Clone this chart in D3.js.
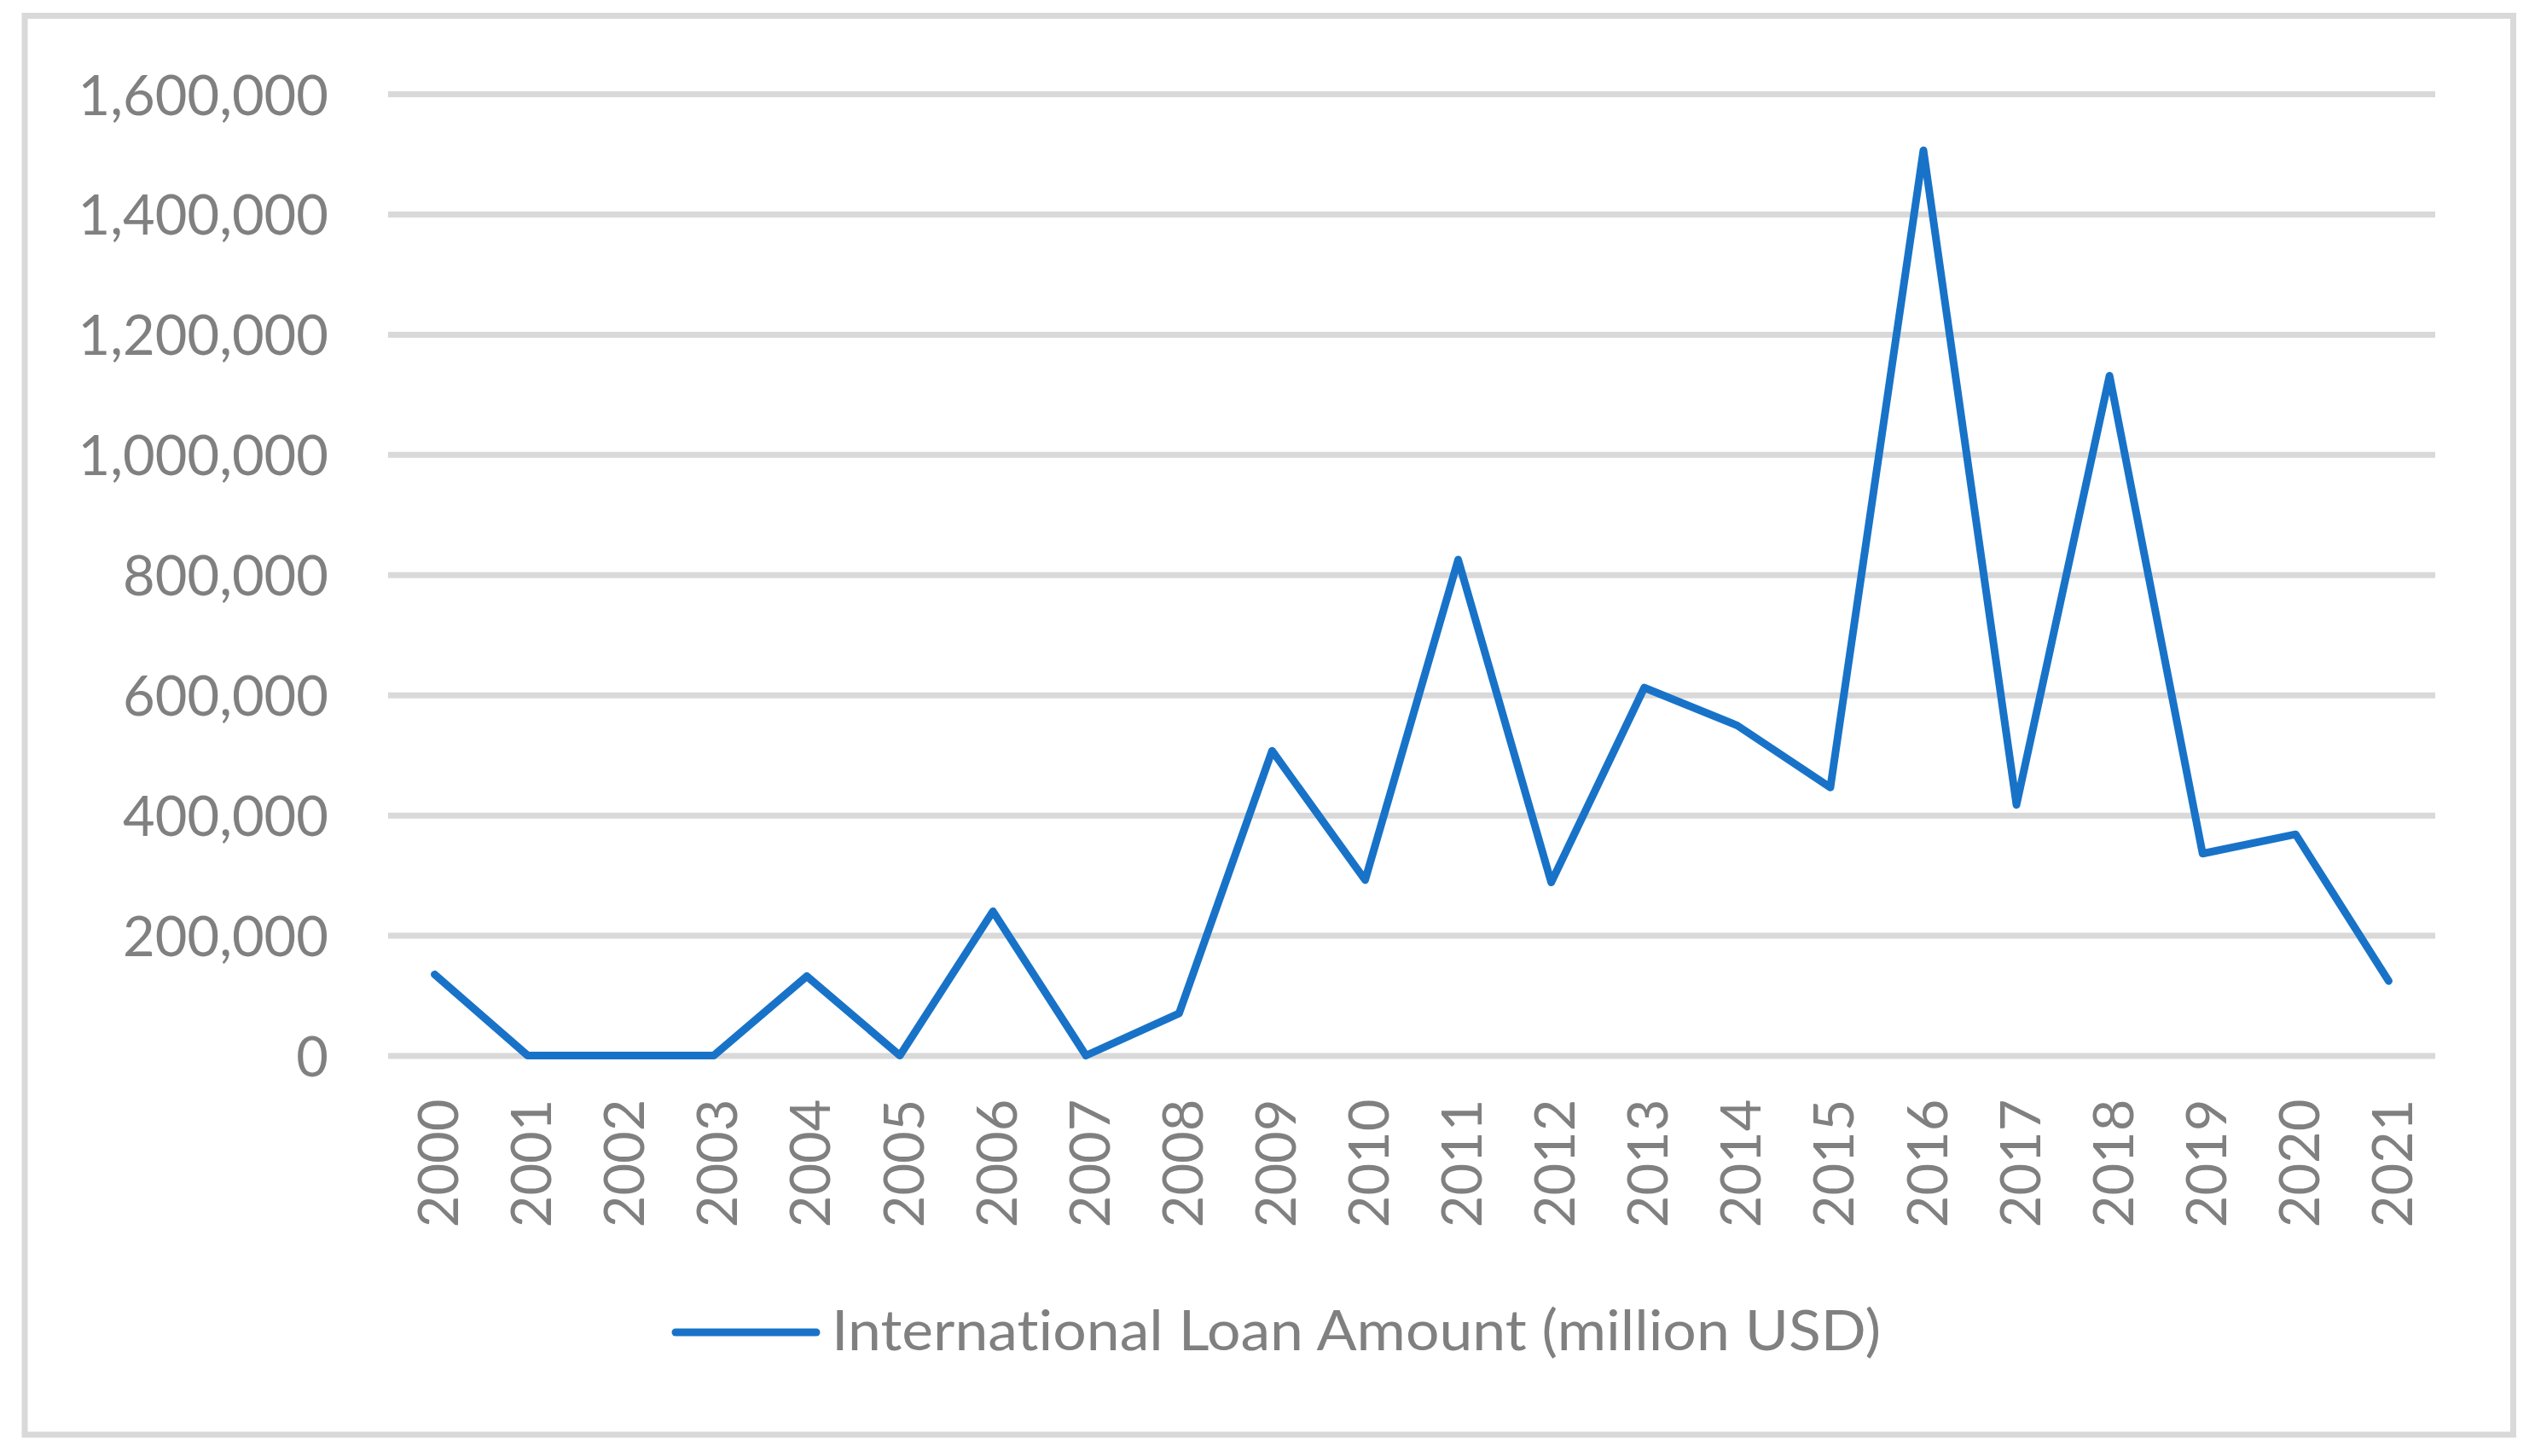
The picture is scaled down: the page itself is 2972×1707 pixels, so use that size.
<!DOCTYPE html>
<html>
<head>
<meta charset="utf-8">
<script src="https://cdn.jsdelivr.net/npm/d3@7"></script>
<style>
  html, body { margin: 0; padding: 0; background: #ffffff; }
  svg { display: block; }
  text { font-family: Lato, "Open Sans", sans-serif; fill: #808080; font-variant-ligatures: none; font-feature-settings: "liga" 0, "clig" 0, "dlig" 0; }
</style>
</head>
<body>
<svg id="chart" width="2972" height="1707"></svg>
<script>
// ---- data ----
const years = ["2000","2001","2002","2003","2004","2005","2006","2007","2008","2009","2010",
               "2011","2012","2013","2014","2015","2016","2017","2018","2019","2020","2021"];
const loanAmounts = [135000, 0, 0, 0, 132000, 0, 240000, 0, 70000, 507000, 292000,
                     825000, 288000, 612000, 549000, 446000, 1506000, 417000, 1131000, 336000, 368000, 124000];
const yTicks = [0, 200000, 400000, 600000, 800000, 1000000, 1200000, 1400000, 1600000];
const seriesName = "International Loan Amount (million USD)";

// ---- layout ----
const W = 2972, H = 1707;
const plot = { left: 455, right: 2855, top: 110, bottom: 1237.5 };
const lineColor = "#1873C8";
const gridColor = "#D9D9D9";

const svg = d3.select("#chart");

// outer border
svg.append("rect")
  .attr("x", 29).attr("y", 18.5)
  .attr("width", 2946.5 - 29).attr("height", 1682 - 18.5)
  .attr("fill", "#ffffff")
  .attr("stroke", gridColor).attr("stroke-width", 7);

const x = d3.scalePoint().domain(years).range([plot.left, plot.right]).padding(0.5);
const y = d3.scaleLinear().domain([0, 1600000]).range([plot.bottom, plot.top]);

// y axis with gridlines
const yAxis = d3.axisLeft(y)
  .tickValues(yTicks)
  .tickFormat(d3.format(","))
  .tickSizeInner(-(plot.right - plot.left))
  .tickSizeOuter(0)
  .tickPadding(70);

const gy = svg.append("g")
  .attr("transform", `translate(${plot.left},0)`)
  .call(yAxis);
gy.select(".domain").remove();
gy.selectAll(".tick line").attr("stroke", gridColor).attr("stroke-width", 7);
gy.selectAll(".tick text")
  .attr("font-size", 65)
  .attr("fill", "#808080")
  .attr("dy", null)
  .attr("dominant-baseline", "central")
  .attr("y", -1);

// x axis labels (rotated)
const xAxis = d3.axisBottom(x).tickSize(0).tickPadding(0);
const gx = svg.append("g")
  .attr("transform", `translate(0,${plot.bottom})`)
  .call(xAxis);
gx.select(".domain").remove();
gx.selectAll(".tick text")
  .attr("font-size", 65)
  .attr("fill", "#808080")
  .attr("text-anchor", "end")
  .attr("dy", null)
  .attr("dominant-baseline", "alphabetic")
  .attr("x", 0).attr("y", 0)
  .attr("transform", "translate(27,51) rotate(-90)");

// line
const line = d3.line()
  .x((d, i) => x(years[i]))
  .y(d => y(d));

svg.append("path")
  .datum(loanAmounts)
  .attr("fill", "none")
  .attr("stroke", lineColor)
  .attr("stroke-width", 9)
  .attr("stroke-linejoin", "round")
  .attr("stroke-linecap", "round")
  .attr("d", line);

// legend
const lg = svg.append("g");
lg.append("line")
  .attr("x1", 792).attr("x2", 957)
  .attr("y1", 1562).attr("y2", 1562)
  .attr("stroke", lineColor).attr("stroke-width", 9)
  .attr("stroke-linecap", "round");
lg.append("text")
  .attr("x", 975).attr("y", 1583)
  .attr("font-size", 65)
  .attr("fill", "#808080")
  .attr("textLength", 1230)
  .attr("lengthAdjust", "spacingAndGlyphs")
  .text(seriesName);
</script>
</body>
</html>
